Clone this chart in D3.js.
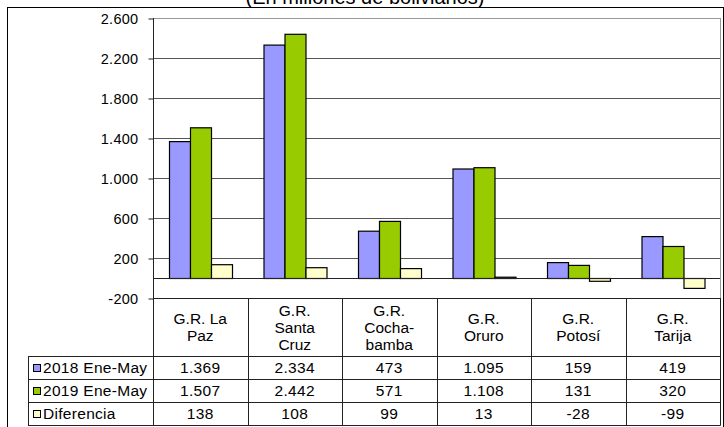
<!DOCTYPE html>
<html>
<head>
<meta charset="utf-8">
<script src="https://cdn.jsdelivr.net/npm/d3@7/dist/d3.min.js"></script>
<style>
html,body{margin:0;padding:0;background:#fff;}
svg{display:block;font-family:"Liberation Sans",Arial,sans-serif;}
</style>
</head>
<body>
<svg id="chart" width="724" height="427"></svg>
<script>
const titleText = "(En millones de bolivianos)";
const categories = ["G.R. La\nPaz", "G.R.\nSanta\nCruz", "G.R.\nCocha-\nbamba", "G.R.\nOruro", "G.R.\nPotosí", "G.R.\nTarija"];
const seriesNames = ["2018 Ene-May", "2019 Ene-May", "Diferencia"];
const seriesColors = ["#9999FF", "#99CC00", "#FFFFCC"];
const values2018 = [1369, 2334, 473, 1095, 159, 419];
const values2019 = [1507, 2442, 571, 1108, 131, 320];
const diferencia = [138, 108, 99, 13, -28, -99];
const yTicks = [-200, 200, 600, 1000, 1400, 1800, 2200, 2600];

const seriesValues = [values2018, values2019, diferencia];
const fmt = d3.formatLocale({decimal: ",", thousands: ".", grouping: [3], currency: ["", ""], minus: "-"}).format(",d");

const svg = d3.select("#chart");
const plotLeft = 153, plotRight = 720, plotTop = 18, plotBottom = 298;
const tableLeft = 28, headerBottom = 356, rowH = 23;
const tableBottom = headerBottom + rowH * 3;

const x0 = d3.scaleBand().domain(categories).range([plotLeft, plotRight]).padding(0);
const x1 = d3.scaleBand().domain(seriesNames).range([0, x0.bandwidth()]).paddingInner(0).paddingOuter(0.75);
const y = d3.scaleLinear().domain([-200, 2600]).range([plotBottom, plotTop]);

// outer border
svg.append("rect").attr("x", 7.5).attr("y", 7.5).attr("width", 716).attr("height", 430)
  .attr("fill", "none").attr("stroke", "#000").attr("stroke-width", 1);

// title
svg.append("text").attr("x", 365).attr("y", 4).attr("text-anchor", "middle")
  .attr("font-size", 20).attr("fill", "#000").text(titleText);

// gridlines
svg.append("g").selectAll("line").data(yTicks.filter(t => t > -200))
  .join("line")
  .attr("x1", plotLeft).attr("x2", plotRight)
  .attr("y1", d => Math.round(y(d)) + 0.5).attr("y2", d => Math.round(y(d)) + 0.5)
  .attr("stroke", d => d === 2600 ? "#999" : "#555").attr("stroke-width", 1);

// plot right border
svg.append("line").attr("x1", plotRight + 0.5).attr("x2", plotRight + 0.5)
  .attr("y1", plotTop).attr("y2", plotBottom).attr("stroke", "#999");

// bars
const groups = svg.append("g").selectAll("g").data(categories).join("g")
  .attr("transform", d => `translate(${x0(d)},0)`);
groups.selectAll("rect").data((d, i) => seriesNames.map((s, j) => ({s, v: seriesValues[j][i], j})))
  .join("rect")
  .attr("x", d => Math.round(x1(d.s)) + 0.5)
  .attr("width", Math.round(x1.bandwidth()))
  .attr("y", d => Math.min(y(d.v), y(0)) + 0.5)
  .attr("height", d => Math.max(Math.abs(y(d.v) - y(0)), 0.5))
  .attr("fill", d => seriesColors[d.j])
  .attr("stroke", "#000").attr("stroke-width", 1.2);

// zero axis line
svg.append("line").attr("x1", plotLeft).attr("x2", plotRight)
  .attr("y1", Math.round(y(0)) + 0.5).attr("y2", Math.round(y(0)) + 0.5)
  .attr("stroke", "#222");

// y axis
const yAxis = d3.axisLeft(y).tickValues(yTicks).tickSize(5).tickPadding(10).tickFormat(fmt);
const ga = svg.append("g").attr("transform", `translate(${plotLeft + 0.5},0.5)`).call(yAxis);
ga.select(".domain").remove();
ga.selectAll(".tick line").attr("stroke", "#222");
ga.selectAll(".tick text").attr("font-size", 14.5).attr("fill", "#000")
  .attr("font-family", "'Liberation Sans', Arial, sans-serif").attr("letter-spacing", 0.3);
svg.append("line").attr("x1", plotLeft + 0.5).attr("x2", plotLeft + 0.5)
  .attr("y1", plotTop).attr("y2", tableBottom + 0.5).attr("stroke", "#222");

// table lines
const tl = svg.append("g").attr("stroke", "#222").attr("stroke-width", 1);
tl.append("line").attr("x1", plotLeft).attr("x2", plotRight + 0.5)
  .attr("y1", plotBottom + 0.5).attr("y2", plotBottom + 0.5);
[0, 1, 2, 3].forEach(r => {
  const yy = headerBottom + r * rowH + 0.5;
  tl.append("line").attr("x1", tableLeft).attr("x2", plotRight + 0.5).attr("y1", yy).attr("y2", yy);
});
tl.append("line").attr("x1", tableLeft + 0.5).attr("x2", tableLeft + 0.5)
  .attr("y1", headerBottom).attr("y2", tableBottom + 0.5);
categories.forEach(c => {
  const xx = Math.round(x0(c) + x0.bandwidth()) + 0.5;
  tl.append("line").attr("x1", xx).attr("x2", xx).attr("y1", plotBottom).attr("y2", tableBottom + 0.5);
});

// header labels
const fs = 15.5;
categories.forEach(c => {
  const lines = c.split("\n");
  const cx = x0(c) + x0.bandwidth() / 2;
  lines.forEach((ln, k) => {
    svg.append("text").attr("x", cx)
      .attr("y", 327 + (k - (lines.length - 1) / 2) * 17 + 5.5)
      .attr("text-anchor", "middle").attr("font-size", fs).attr("fill", "#000").text(ln);
  });
});

// rows
seriesNames.forEach((s, j) => {
  const cy = headerBottom + j * rowH + rowH / 2;
  svg.append("rect").attr("x", 33.5).attr("y", Math.round(cy - 4) + 0.5).attr("width", 7).attr("height", 7)
    .attr("fill", seriesColors[j]).attr("stroke", "#000").attr("stroke-width", 1);
  svg.append("text").attr("x", 43).attr("y", cy + 5.5).attr("font-size", fs)
    .attr("letter-spacing", 0.3).attr("fill", "#000").text(s);
  categories.forEach((c, i) => {
    svg.append("text").attr("x", x0(c) + x0.bandwidth() / 2).attr("y", cy + 5.5)
      .attr("text-anchor", "middle").attr("font-size", fs).attr("letter-spacing", 0.3)
      .attr("fill", "#000").text(fmt(seriesValues[j][i]));
  });
});
</script>
</body>
</html>
